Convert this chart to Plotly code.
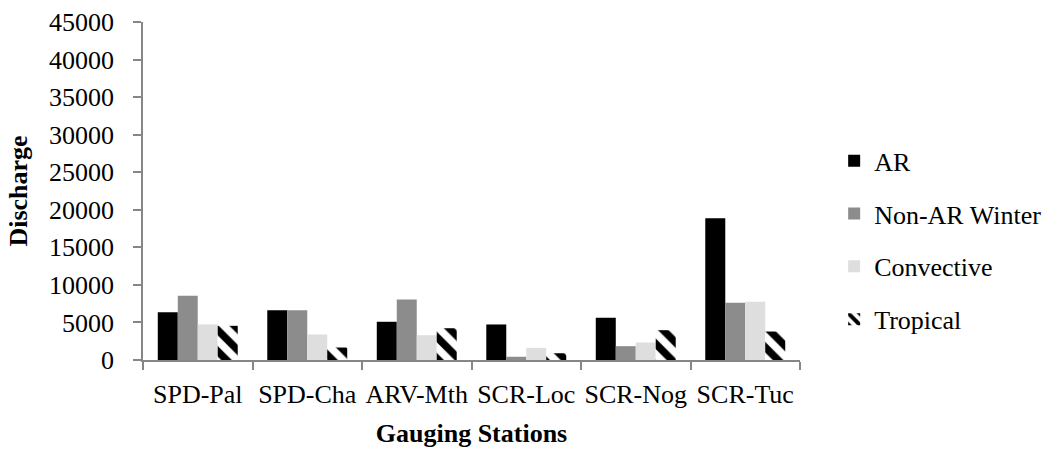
import plotly.graph_objects as go

# Discharge by storm type at each gauging station
stations = ["SPD-Pal", "SPD-Cha", "ARV-Mth", "SCR-Loc", "SCR-Nog", "SCR-Tuc"]
ar = [6360, 6630, 5090, 4730, 5620, 18880]
non_ar_winter = [8550, 6630, 8060, 430, 1840, 7620]
convective = [4730, 3400, 3300, 1620, 2330, 7750]
tropical = [4550, 1660, 4230, 900, 3970, 3790]
y_ticks = list(range(0, 45001, 5000))

FONT = "Liberation Serif"
AXIS_GREY = "#868686"

fig = go.Figure()

series = [
    ("AR", ar, dict(color="#000000")),
    ("Non-AR Winter", non_ar_winter, dict(color="#8c8c8c")),
    ("Convective", convective, dict(color="#dedede")),
    ("Tropical", tropical, dict(color="#ffffff",
                                pattern=dict(shape="\\", fgcolor="#000000",
                                             bgcolor="#ffffff", fgopacity=1,
                                             size=15, solidity=0.5))),
]

for name, vals, marker in series:
    fig.add_trace(go.Bar(
        x=stations, y=vals, name=name, legendgroup=name,
        marker=dict(line=dict(width=0), **marker),
    ))

fig.update_layout(
    width=1047, height=449,
    margin=dict(l=143, r=247, t=22, b=89, autoexpand=False),
    paper_bgcolor="white", plot_bgcolor="white",
    barmode="group", bargap=0.27, bargroupgap=0,
    font=dict(family=FONT, size=26, color="#000000"),
    legend=dict(
        x=1.052, xanchor="left", y=0.354, yanchor="middle",
        font=dict(family=FONT, size=26),
        tracegroupgap=16, itemwidth=30,
        bgcolor="rgba(0,0,0,0)",
    ),
    showlegend=True,
)

fig.update_xaxes(
    automargin=False, tickangle=0,
    showline=True, linecolor=AXIS_GREY, linewidth=1.5,
    ticks="outside", tickson="boundaries", ticklen=8, tickcolor=AXIS_GREY,
    tickwidth=1.5, showgrid=False, zeroline=False, ticklabelstandoff=10,
    tickfont=dict(family=FONT, size=26),
    title=dict(text="<b>Gauging Stations</b>", font=dict(family=FONT, size=26),
               standoff=16),
)

fig.update_yaxes(
    automargin=False,
    range=[0, 45000], tickvals=y_ticks, ticktext=[str(v) for v in y_ticks],
    showline=True, linecolor=AXIS_GREY, linewidth=1.5,
    ticks="outside", ticklen=8, tickcolor=AXIS_GREY, tickwidth=1.5,
    showgrid=False, zeroline=False, ticklabelstandoff=14,
    tickfont=dict(family=FONT, size=26),
    title=dict(text="<b>Discharge</b>", font=dict(family=FONT, size=26),
               standoff=14),
)

fig.write_html("out.html")
